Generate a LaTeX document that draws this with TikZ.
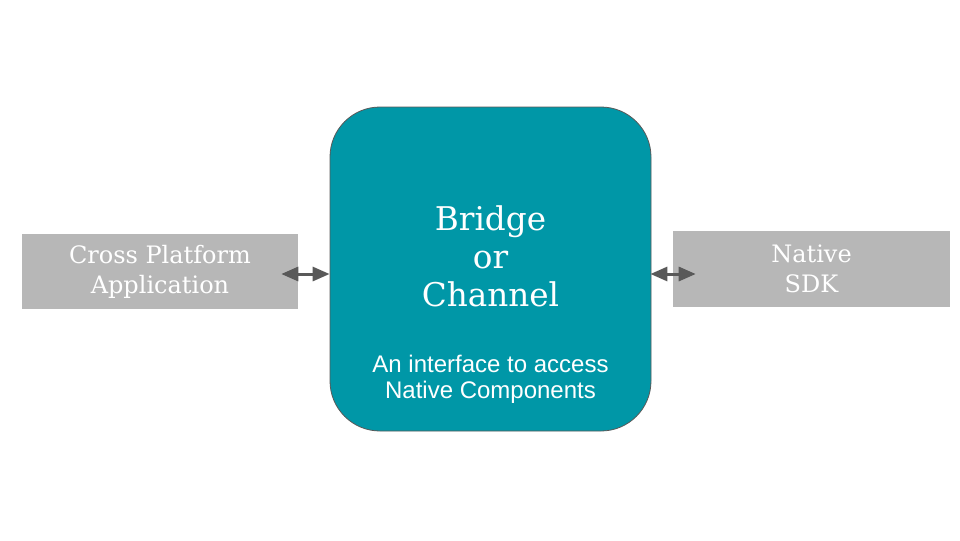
\documentclass[tikz,border=0pt]{standalone}
\usepackage{tikz}
\usetikzlibrary{calc}
\usetikzlibrary{arrows.meta,shapes}
\usetikzlibrary{positioning}
\usepackage{fontspec}
\setmainfont{DejaVu Serif}
\setsansfont{Liberation Sans}
\usepackage{xcolor}
\definecolor{teal}{HTML}{0097A7}
\definecolor{boxgray}{HTML}{B7B7B7}
\definecolor{linkgray}{HTML}{595959}
\newcommand{\px}{0.75pt}
\tikzset{
  sidebox/.style={fill=boxgray,text=white,align=center,inner sep=0pt,
    font=\fontsize{18}{22.5}\selectfont},
  bridgebox/.style={fill=teal,draw=linkgray,line width=0.6pt,rounded corners=37.5pt,
    minimum width=240.75pt,minimum height=243pt},
  link/.style={draw=linkgray,line width=2.25pt,
    {Triangle[length=12.75pt,width=10.5pt]}-{Triangle[length=12.75pt,width=10.5pt]}}
}
\begin{document}
\begin{tikzpicture}[x=\px,y=-\px]
        \useasboundingbox (0,0) rectangle (960,540);
        \node[bridgebox] (bridge) at (490.5,269) {};
        \node[text=white,align=center,font=\fontsize{24.5}{28.5}\selectfont] (title)
          at (490.5,256) {Bridge\\or\\Channel};
        \node[text=white,align=center,font=\sffamily\fontsize{18}{19.5}\selectfont] (sub)
          at (490.5,379) {An interface to access\\Native Components};
        \node[sidebox,minimum width=207pt,minimum height=56.25pt] (appl)
          at (160,271.5) {Cross Platform\\Application};
        \node[sidebox,minimum width=207.75pt,minimum height=57pt] (sdk)
          at (811.5,269) {Native\\SDK};
        \draw[link] ([shift={(-17,2.5)}]appl.east) -- ([shift={(0,5)}]bridge.west);
        \draw[link] ([shift={(-1,5)}]bridge.east) -- ([shift={(23,5)}]sdk.west);
      \end{tikzpicture}
\end{document}
